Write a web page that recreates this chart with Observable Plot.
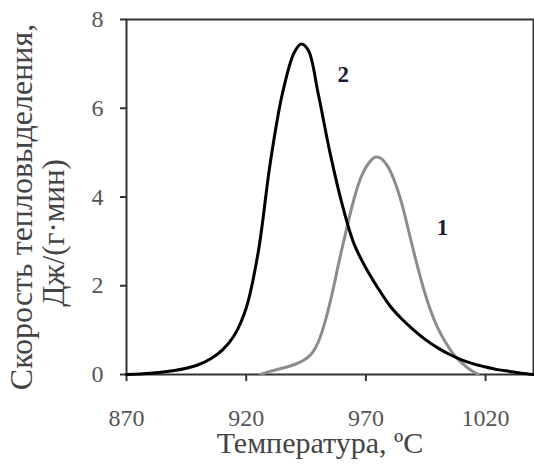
<!DOCTYPE html>
<html>
<head>
<meta charset="utf-8">
<script src="https://cdn.jsdelivr.net/npm/d3@7"></script>
<script src="https://cdn.jsdelivr.net/npm/@observablehq/plot@0.6"></script>
<style>
  html, body { margin: 0; padding: 0; background: #fff; }
</style>
</head>
<body>
<div id="chart"></div>
<script>
// Curve 1 (grey)
const temp1 = [926, 930, 935, 940, 944, 947, 950, 953, 956, 959, 962, 965, 968, 971, 974, 976, 979, 982, 985, 988, 991, 994, 997, 1000, 1003, 1006, 1010, 1014, 1017];
const rate1 = [0, 0.07, 0.14, 0.22, 0.32, 0.45, 0.72, 1.2, 1.85, 2.6, 3.3, 3.95, 4.45, 4.75, 4.9, 4.88, 4.7, 4.35, 3.85, 3.2, 2.55, 1.95, 1.45, 1.05, 0.75, 0.5, 0.26, 0.09, 0];
// Curve 2 (black)
const temp2 = [870, 880, 890, 895, 900, 905, 910, 915, 920, 925, 930, 935, 940, 943, 946, 950, 955, 960, 965, 970, 975, 980, 985, 990, 995, 1000, 1005, 1010, 1015, 1020, 1025, 1030, 1035, 1040];
const rate2 = [0, 0.03, 0.09, 0.14, 0.22, 0.35, 0.55, 0.88, 1.5, 2.75, 4.75, 6.3, 7.25, 7.45, 7.3, 6.35, 5.0, 3.85, 2.95, 2.4, 1.95, 1.55, 1.25, 1.0, 0.78, 0.6, 0.45, 0.33, 0.24, 0.17, 0.11, 0.07, 0.03, 0];
const xDomain = [870, 1040];
const yDomain = [0, 8];
const xTicks = [870, 920, 970, 1020];
const yTicks = [0, 2, 4, 6, 8];
const curveNames = ["2", "1"];
const curveLabelT = [960.5, 1002];
const curveLabelV = [6.75, 3.31];
const xLabel = "Температура, ºC";
const yLabel1 = "Скорость тепловыделения,";
const yLabel2 = "Дж/(г·мин)";

const series1 = temp1.map((t, i) => ({T: t, v: rate1[i]}));
const series2 = temp2.map((t, i) => ({T: t, v: rate2[i]}));
const labels = curveNames.map((n, i) => ({name: n, T: curveLabelT[i], v: curveLabelV[i]}));
const yMid = (yDomain[0] + yDomain[1]) / 2;

const chart = Plot.plot({
  width: 534,
  height: 464,
  marginLeft: 126,
  marginRight: 1,
  marginTop: 19,
  marginBottom: 90,
  style: {fontFamily: "'Liberation Serif', 'Times New Roman', serif", background: "#fff", color: "#555"},
  x: {domain: xDomain},
  y: {domain: yDomain},
  marks: [
    Plot.frame({stroke: "#333", strokeWidth: 2}),
    Plot.axisX({ticks: xTicks, tickFormat: d => String(d), tickSize: 7, tickPadding: 27, fontSize: 24, label: null, stroke: "#333", strokeWidth: 2, fill: "#555"}),
    Plot.axisY({ticks: yTicks, tickSize: 6, tickPadding: 17, fontSize: 24, label: null, stroke: "#333", strokeWidth: 2, fill: "#555"}),
    Plot.line(series1, {x: "T", y: "v", stroke: "#8c8c8c", strokeWidth: 3, curve: "catmull-rom"}),
    Plot.line(series2, {x: "T", y: "v", stroke: "#000", strokeWidth: 3, curve: "catmull-rom"}),
    Plot.text(labels, {x: "T", y: "v", text: "name", fontSize: 23, fontWeight: "bold", fill: "#1a1a33"}),
    Plot.text([xLabel], {frameAnchor: "bottom", dx: -10, dy: 78, fontSize: 30, fill: "#444"}),
    Plot.text([yLabel1], {x: () => xDomain[0], y: () => yMid, dx: -105, dy: 10, rotate: -90, fontSize: 32, fill: "#444"}),
    Plot.text([yLabel2], {x: () => xDomain[0], y: () => yMid, dx: -72, dy: 36, rotate: -90, fontSize: 31, fill: "#444"})
  ]
});
document.getElementById("chart").append(chart);
// make sure the y labels are vertical
d3.select(chart).selectAll("text")
  .filter(function () { return this.textContent === yLabel1 || this.textContent === yLabel2; })
  .each(function () {
    let rotated = false;
    for (let n = this; n && n !== chart; n = n.parentNode) {
      const t = n.getAttribute && n.getAttribute("transform");
      if (t && t.includes("rotate")) rotated = true;
    }
    if (!rotated) {
      const b = this.getBBox();
      const cx = b.x + b.width / 2, cy = b.y + b.height / 2;
      const t = this.getAttribute("transform") || "";
      this.setAttribute("transform", `${t} rotate(-90 ${cx} ${cy})`);
    }
  });
</script>
</body>
</html>
